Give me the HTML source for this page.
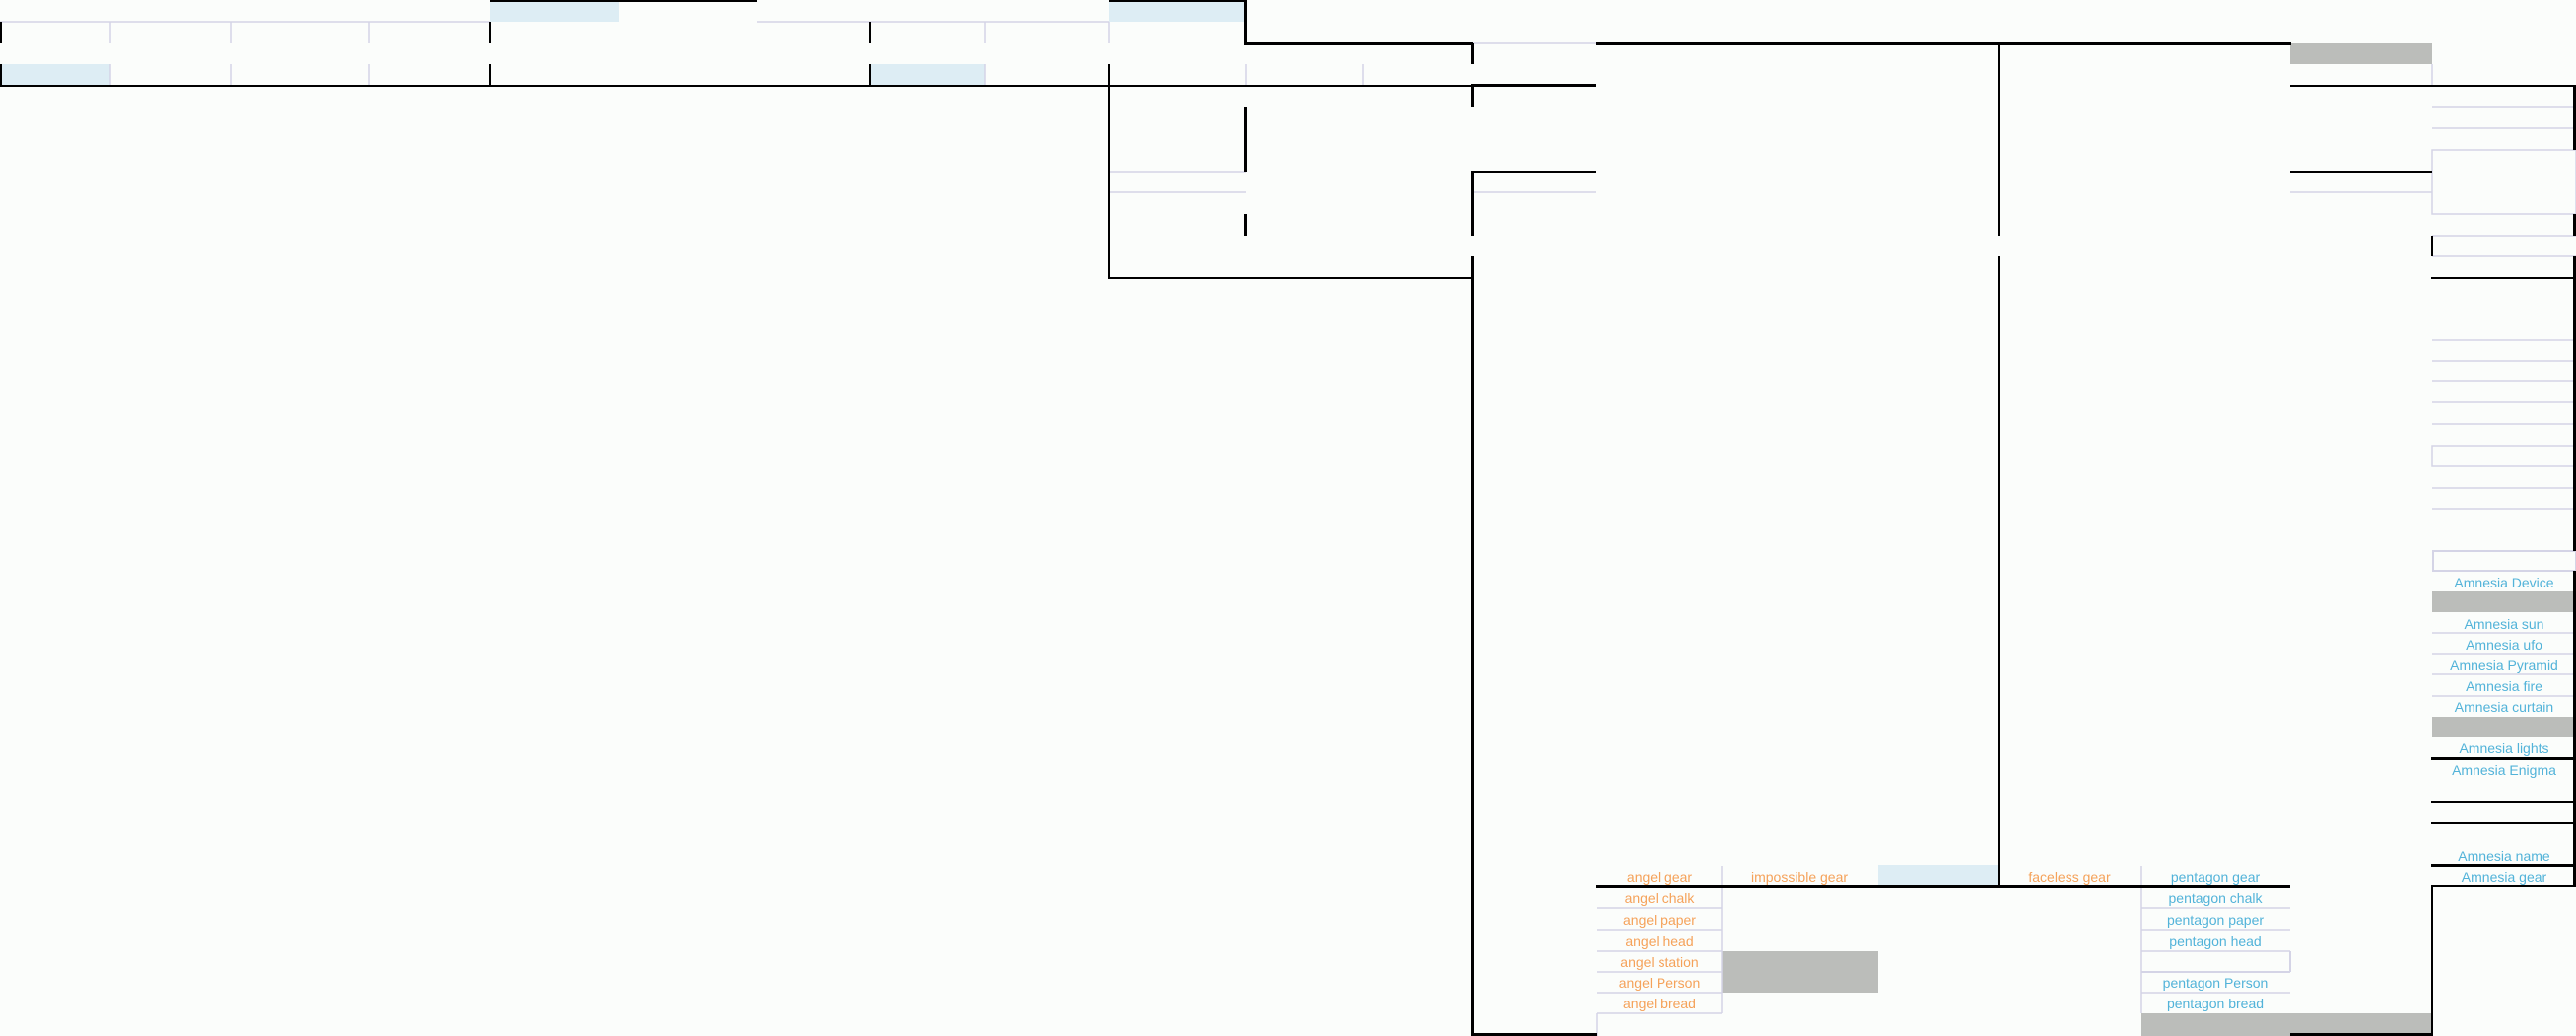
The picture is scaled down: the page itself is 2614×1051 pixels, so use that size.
<!DOCTYPE html>
<html><head><meta charset="utf-8"><style>
html,body{margin:0;padding:0;background:#fbfdfb;}
svg{display:block;}
text{font-family:"Liberation Sans",sans-serif;font-size:14px;text-anchor:middle;}
.o{fill:#f5a25a;} .b{fill:#52b3d9;}
</style></head><body>
<svg width="2614" height="1051" viewBox="0 0 2614 1051" xmlns="http://www.w3.org/2000/svg">
<rect width="2614" height="1051" fill="#fbfdfb"/>
<!-- blue fills -->
<g fill="#ddedf4">
<rect x="497" y="0" width="131" height="22"/>
<rect x="1125" y="0" width="138" height="22"/>
<rect x="0" y="65" width="112" height="22"/>
<rect x="883" y="65" width="117" height="22"/>
<rect x="1906" y="878" width="122" height="21"/>
</g>
<!-- gray fills -->
<g fill="#bbbdba">
<rect x="2324" y="44" width="144" height="21"/>
<rect x="2468" y="600" width="144" height="21"/>
<rect x="2468" y="727" width="144" height="21"/>
<rect x="1747" y="965" width="159" height="42"/>
<rect x="2173" y="1028" width="294" height="23"/>
</g>
<!-- light lines -->
<g stroke="#d4d4e6" stroke-width="1.5" fill="none">
<line x1="0" y1="22" x2="497" y2="22"/>
<line x1="768" y1="22" x2="1125" y2="22"/>
<line x1="112" y1="22" x2="112" y2="44"/><line x1="234" y1="22" x2="234" y2="44"/><line x1="374" y1="22" x2="374" y2="44"/>
<line x1="112" y1="65" x2="112" y2="87"/><line x1="234" y1="65" x2="234" y2="87"/><line x1="374" y1="65" x2="374" y2="87"/>
<line x1="1000" y1="22" x2="1000" y2="44"/><line x1="1000" y1="65" x2="1000" y2="87"/>
<line x1="1125" y1="22" x2="1125" y2="44"/>
<line x1="1264" y1="65" x2="1264" y2="87"/><line x1="1383" y1="65" x2="1383" y2="87"/>
<line x1="1495" y1="44" x2="1620" y2="44"/>
<line x1="1125" y1="174" x2="1264" y2="174"/>
<line x1="1125" y1="195" x2="1264" y2="195"/>
<line x1="1495" y1="195" x2="1620" y2="195"/>
<line x1="2324" y1="195" x2="2468" y2="195"/>
<line x1="2468" y1="65" x2="2468" y2="87"/>
<line x1="2468" y1="109" x2="2612" y2="109"/>
<line x1="2468" y1="130" x2="2612" y2="130"/>
<rect x="2468" y="152" width="146" height="65"/>
<line x1="2468" y1="239" x2="2614" y2="239"/>
<line x1="2468" y1="260" x2="2614" y2="260"/>
<line x1="2468" y1="345" x2="2612" y2="345"/>
<line x1="2468" y1="366" x2="2612" y2="366"/>
<line x1="2468" y1="387" x2="2612" y2="387"/>
<line x1="2468" y1="408" x2="2612" y2="408"/>
<line x1="2468" y1="430" x2="2612" y2="430"/>
<rect x="2468" y="452" width="146" height="21"/>
<line x1="2468" y1="495" x2="2612" y2="495"/>
<line x1="2468" y1="516" x2="2612" y2="516"/>
<rect x="2469" y="559" width="145" height="20" stroke-width="2"/>
<line x1="2468" y1="642" x2="2612" y2="642"/>
<line x1="2468" y1="663" x2="2612" y2="663"/>
<line x1="2468" y1="684" x2="2612" y2="684"/>
<line x1="2468" y1="706" x2="2612" y2="706"/>
<!-- angel column -->
<line x1="1747" y1="879" x2="1747" y2="1028"/>
<line x1="1621" y1="921" x2="1747" y2="921"/>
<line x1="1621" y1="943" x2="1747" y2="943"/>
<line x1="1621" y1="965" x2="1747" y2="965"/>
<line x1="1621" y1="986" x2="1747" y2="986"/>
<line x1="1621" y1="1007" x2="1747" y2="1007"/>
<line x1="1621" y1="1028" x2="1747" y2="1028"/>
<line x1="1621" y1="1028" x2="1621" y2="1051"/>
<!-- pentagon column -->
<line x1="2173" y1="879" x2="2173" y2="1028"/>
<line x1="2173" y1="921" x2="2324" y2="921"/>
<line x1="2173" y1="943" x2="2324" y2="943"/>
<line x1="2173" y1="965" x2="2324" y2="965"/>
<line x1="2173" y1="986" x2="2324" y2="986" stroke-width="2"/>
<line x1="2324" y1="965" x2="2324" y2="986" stroke-width="2"/>
<line x1="2173" y1="1007" x2="2324" y2="1007"/>
</g>
<!-- black lines -->
<g fill="#000">
<rect x="497" y="0" width="271" height="2"/>
<rect x="1125" y="0" width="139" height="2"/>
<rect x="1262" y="0" width="3" height="44"/>
<rect x="1262" y="43" width="233" height="3"/>
<rect x="1620" y="43" width="704" height="3"/>
<rect x="2300" y="43" width="25" height="3"/>
<rect x="0" y="22" width="2" height="22"/><rect x="0" y="65" width="2" height="22"/>
<rect x="496" y="22" width="2" height="22"/><rect x="496" y="65" width="2" height="22"/>
<rect x="882" y="22" width="2" height="22"/><rect x="882" y="65" width="2" height="22"/>
<rect x="0" y="86" width="1493" height="2"/>
<rect x="1493" y="85" width="127" height="3"/>
<rect x="2324" y="86" width="290" height="2"/>
<rect x="1493" y="44" width="3" height="21"/>
<rect x="1493" y="87" width="3" height="22"/>
<rect x="1124" y="65" width="2" height="217"/>
<rect x="1124" y="281" width="371" height="2"/>
<rect x="1262" y="109" width="3" height="65"/>
<rect x="1262" y="217" width="3" height="22"/>
<rect x="1493" y="173" width="127" height="3"/>
<rect x="1493" y="174" width="3" height="65"/>
<rect x="1493" y="260" width="3" height="791"/>
<rect x="2027" y="44" width="3" height="195"/>
<rect x="2027" y="260" width="3" height="641"/>
<rect x="2324" y="173" width="144" height="3"/>
<rect x="2611" y="87" width="3" height="65"/>
<rect x="2611" y="217" width="3" height="22"/>
<rect x="2467" y="239" width="2" height="21"/>
<rect x="2467" y="281" width="147" height="2"/>
<rect x="2611" y="260" width="3" height="299"/>
<rect x="2611" y="579" width="3" height="321"/>
<rect x="2467" y="768" width="147" height="3"/>
<rect x="2467" y="813" width="147" height="2"/>
<rect x="2467" y="834" width="147" height="2"/>
<rect x="2467" y="877" width="147" height="3"/>
<rect x="2467" y="898" width="147" height="2"/>
<rect x="2467" y="899" width="2" height="152"/>
<rect x="1620" y="898" width="704" height="3"/>
<rect x="1493" y="1048" width="128" height="3"/>
<rect x="2324" y="1048" width="144" height="3"/>
</g>
<!-- text -->
<text class="o" x="1684" y="895">angel gear</text>
<text class="o" x="1826" y="895">impossible gear</text>
<text class="o" x="2100" y="895">faceless gear</text>
<text class="b" x="2248" y="895">pentagon gear</text>
<text class="o" x="1684" y="916">angel chalk</text>
<text class="o" x="1684" y="938">angel paper</text>
<text class="o" x="1684" y="960">angel head</text>
<text class="o" x="1684" y="981">angel station</text>
<text class="o" x="1684" y="1002">angel Person</text>
<text class="o" x="1684" y="1023">angel bread</text>
<text class="b" x="2248" y="916">pentagon chalk</text>
<text class="b" x="2248" y="938">pentagon paper</text>
<text class="b" x="2248" y="960">pentagon head</text>
<text class="b" x="2248" y="1002">pentagon Person</text>
<text class="b" x="2248" y="1023">pentagon bread</text>
<text class="b" x="2541" y="596">Amnesia Device</text>
<text class="b" x="2541" y="638">Amnesia sun</text>
<text class="b" x="2541" y="659">Amnesia ufo</text>
<text class="b" x="2541" y="680">Amnesia Pyramid</text>
<text class="b" x="2541" y="701">Amnesia fire</text>
<text class="b" x="2541" y="722">Amnesia curtain</text>
<text class="b" x="2541" y="764">Amnesia lights</text>
<text class="b" x="2541" y="786">Amnesia Enigma</text>
<text class="b" x="2541" y="873">Amnesia name</text>
<text class="b" x="2541" y="895">Amnesia gear</text>
</svg>
</body></html>
